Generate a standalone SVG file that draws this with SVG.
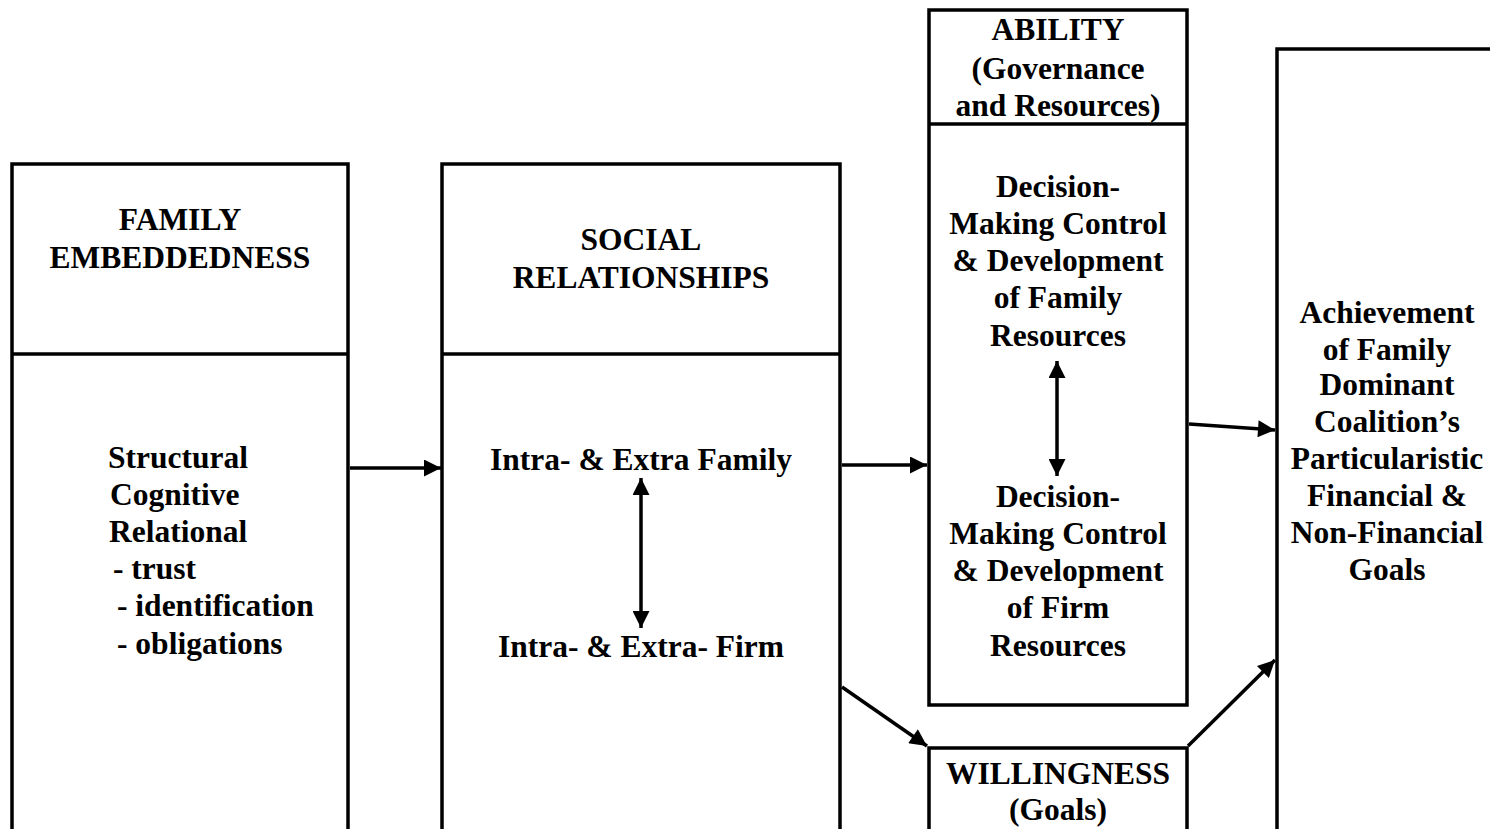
<svg xmlns="http://www.w3.org/2000/svg" width="1490" height="829" viewBox="0 0 1490 829">
<defs>
<style>
.box{fill:#fff;stroke:#000;stroke-width:3.5}
.div{stroke:#000;stroke-width:3.5}
.t{font-family:"Liberation Serif","Times New Roman",serif;font-weight:bold;font-size:31.5px;fill:#000}
.c{text-anchor:middle}
.con{stroke:#000;stroke-width:3.5;fill:none}
</style>
<marker id="ah" viewBox="0 0 10 10" refX="10" refY="5" markerWidth="7" markerHeight="5.5" orient="auto-start-reverse" markerUnits="userSpaceOnUse">
<path d="M0,0 L10,5 L0,10 z" fill="#000"/>
</marker>
<marker id="arr" viewBox="0 0 10 10" refX="10" refY="5" markerWidth="24" markerHeight="17" orient="auto-start-reverse" markerUnits="userSpaceOnUse">
<path d="M0,0 L10,5 L0,10 z" fill="#000"/>
</marker>
</defs>
<rect width="1490" height="829" fill="#fff"/>

<g id="family-embeddedness">
<rect class="box" x="12" y="164" width="336" height="700"/>
<line class="div" x1="12" y1="354" x2="348" y2="354"/>
<text class="t c" x="180" y="230">FAMILY</text>
<text class="t c" x="180" y="268">EMBEDDEDNESS</text>
<text class="t" x="108" y="468">Structural</text>
<text class="t" x="110" y="505">Cognitive</text>
<text class="t" x="109" y="542">Relational</text>
<text class="t" x="113" y="579"> - trust</text>
<text class="t" x="117" y="616"> - identification</text>
<text class="t" x="117" y="654"> - obligations</text>
</g>

<g id="social-relationships">
<rect class="box" x="442" y="164" width="398" height="700"/>
<line class="div" x1="442" y1="354" x2="840" y2="354"/>
<text class="t c" x="641" y="250">SOCIAL</text>
<text class="t c" x="641" y="288">RELATIONSHIPS</text>
<text class="t c" x="641" y="470">Intra- &amp; Extra Family</text>
<text class="t c" x="641" y="657">Intra- &amp; Extra- Firm</text>
</g>

<g id="ability">
<rect class="box" x="929" y="10" width="258" height="695"/>
<line class="div" x1="929" y1="124" x2="1187" y2="124"/>
<text class="t c" x="1058" y="40">ABILITY</text>
<text class="t c" x="1058" y="79">(Governance</text>
<text class="t c" x="1058" y="116">and Resources)</text>
<text class="t c" x="1058" y="197">Decision-</text>
<text class="t c" x="1058" y="234">Making Control</text>
<text class="t c" x="1058" y="271">&amp; Development</text>
<text class="t c" x="1058" y="308">of Family</text>
<text class="t c" x="1058" y="346">Resources</text>
<text class="t c" x="1058" y="507">Decision-</text>
<text class="t c" x="1058" y="544">Making Control</text>
<text class="t c" x="1058" y="581">&amp; Development</text>
<text class="t c" x="1058" y="618">of Firm</text>
<text class="t c" x="1058" y="656">Resources</text>
</g>

<g id="willingness">
<rect class="box" x="929" y="748" width="258" height="120"/>
<text class="t c" x="1058" y="784">WILLINGNESS</text>
<text class="t c" x="1058" y="820">(Goals)</text>
</g>

<g id="goals">
<rect class="box" x="1277" y="49" width="240" height="820"/>
<text class="t c" x="1387" y="323">Achievement</text>
<text class="t c" x="1387" y="360">of Family</text>
<text class="t c" x="1387" y="395">Dominant</text>
<text class="t c" x="1387" y="432">Coalition’s</text>
<text class="t c" x="1387" y="469">Particularistic</text>
<text class="t c" x="1387" y="506">Financial &amp;</text>
<text class="t c" x="1387" y="543">Non-Financial</text>
<text class="t c" x="1387" y="580">Goals</text>
</g>

<g id="connectors">
<line class="con" x1="350" y1="468" x2="441" y2="468" marker-end="url(#arr)"/>
<line class="con" x1="842" y1="465" x2="927" y2="465" marker-end="url(#arr)"/>
<line class="con" x1="641" y1="478" x2="641" y2="628" marker-start="url(#arr)" marker-end="url(#arr)"/>
<line class="con" x1="1057" y1="361" x2="1057" y2="476" marker-start="url(#arr)" marker-end="url(#arr)"/>
<line class="con" x1="1189" y1="424" x2="1275" y2="430" marker-end="url(#arr)"/>
<line class="con" x1="842" y1="687" x2="927" y2="746" marker-end="url(#arr)"/>
<line class="con" x1="1188" y1="746" x2="1275" y2="660" marker-end="url(#arr)"/>
</g>
</svg>
